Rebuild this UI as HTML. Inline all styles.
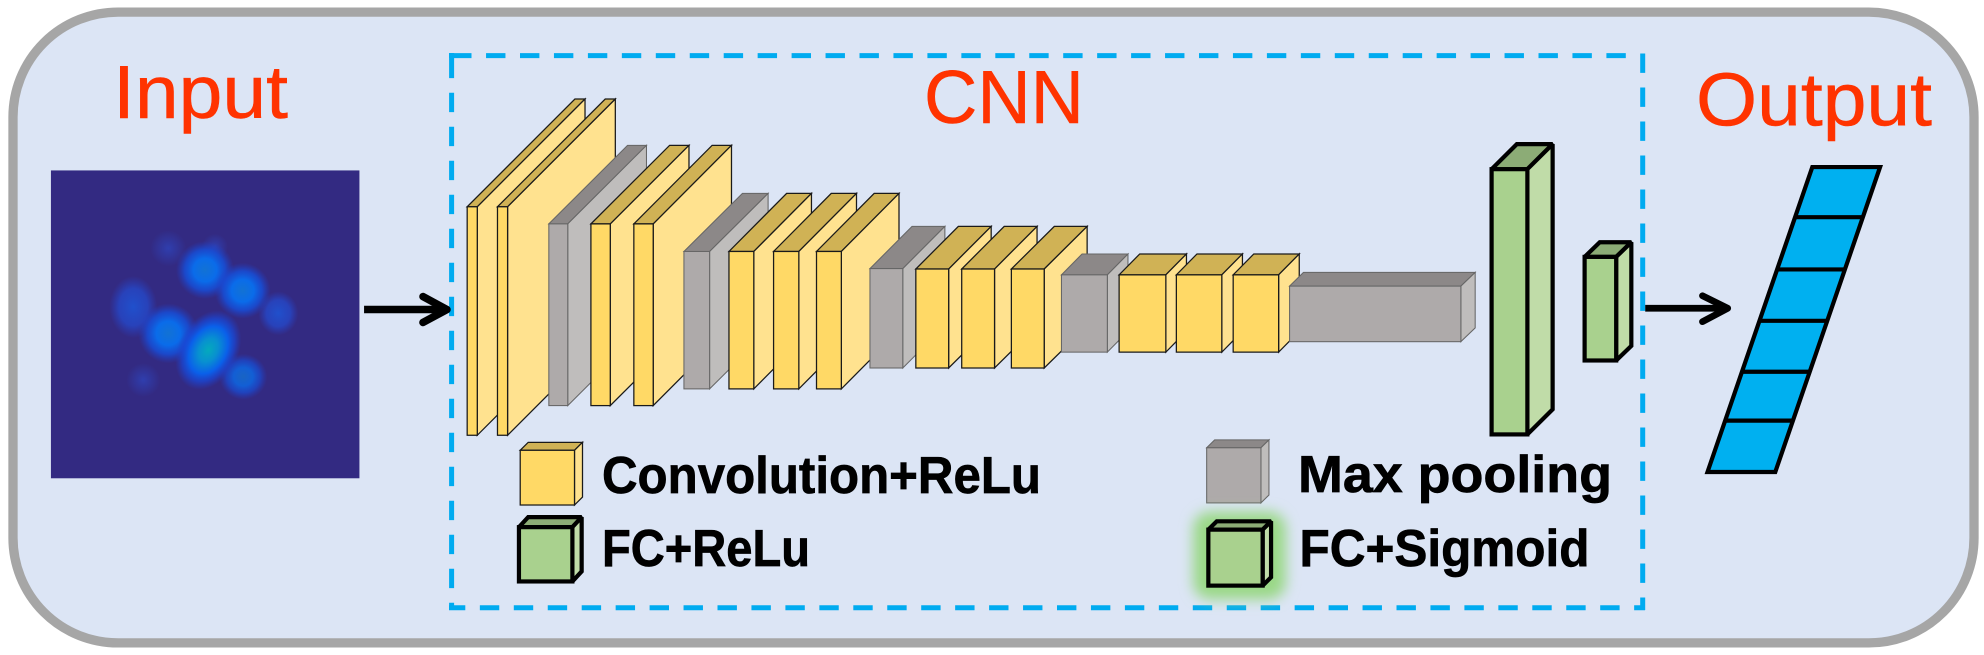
<!DOCTYPE html>
<html><head><meta charset="utf-8"><style>
html,body{margin:0;padding:0;background:#fff}
svg{display:block}
text{font-family:"Liberation Sans",sans-serif}
.t{fill:#FF3300;stroke:#FF3300;stroke-width:.5px;font-size:75px}
.b{fill:#000;stroke:#000;stroke-width:.7px;font-weight:700;font-size:51.6px}
.y polygon,.y rect{stroke:#1a1a1a;stroke-width:3;stroke-linejoin:miter}
.g polygon,.g rect{stroke:#666;stroke-width:2.5}
.k polygon,.k rect{stroke:#000;stroke-width:10;stroke-linejoin:miter;stroke-miterlimit:2}
.yf{fill:#FFD966}.yr{fill:#FFE28F}.yt{fill:#D0B255}
.gf{fill:#AEAAAA}.gr{fill:#BFBDBC}.gt{fill:#8C8888}
.kf{fill:#A9D18E}.kr{fill:#C0DCA8}.kt{fill:#8CAC76}
</style></head><body>
<svg width="1984" height="655" viewBox="0 0 1984 655" xmlns="http://www.w3.org/2000/svg">
<defs>
<filter id="b3" x="-50%" y="-50%" width="200%" height="200%"><feGaussianBlur stdDeviation="16"/></filter>
<radialGradient id="br"><stop offset="0" stop-color="#1272D4"/><stop offset=".4" stop-color="#0A6CEA"/><stop offset=".7" stop-color="#1550DC" stop-opacity=".8"/><stop offset="1" stop-color="#2040C8" stop-opacity="0"/></radialGradient>
<radialGradient id="te"><stop offset="0" stop-color="#04AABC"/><stop offset=".3" stop-color="#0890D0"/><stop offset=".6" stop-color="#0A60EA"/><stop offset=".8" stop-color="#1848D8" stop-opacity=".7"/><stop offset="1" stop-color="#2040C8" stop-opacity="0"/></radialGradient>
<radialGradient id="dm"><stop offset="0" stop-color="#2050CC"/><stop offset=".6" stop-color="#2548C8" stop-opacity=".8"/><stop offset="1" stop-color="#2840C0" stop-opacity="0"/></radialGradient>
<radialGradient id="fa"><stop offset="0" stop-color="#2F3EAE"/><stop offset="1" stop-color="#2F3EAE" stop-opacity="0"/></radialGradient>
</defs>
<rect x="13" y="12.1" width="1961" height="630.8" rx="105" ry="105" fill="#DCE5F5" stroke="#A6A6A6" stroke-width="9.3"/>

<text class="t" x="113" y="118.2" textLength="175" lengthAdjust="spacingAndGlyphs">Input</text>
<text class="t" x="924" y="123.2" textLength="160" lengthAdjust="spacingAndGlyphs">CNN</text>
<text class="t" x="1696" y="125.3" textLength="236" lengthAdjust="spacingAndGlyphs">Output</text>

<g fill="none" stroke="#00ABF0" stroke-width="5">
<path d="M452.1 55.6H1627" stroke-dasharray="19.4 14.55"/>
<path d="M451.6 58.7V610" stroke-dasharray="19.4 14.6"/>
<path d="M449 55.6H454M451.6 53V59.5"/>
<path d="M449 607.8H1645" stroke-dasharray="19.4 14.55" stroke-dashoffset="3.1"/>
<path d="M1642.7 53.5V610" stroke-dasharray="19.4 14.6"/>
</g>

<g transform="scale(0.42088,0.41771)">
<rect x="121" y="408" width="733" height="737" fill="#332A82"/>

<path d="M865 741H1060" fill="none" stroke="#000" stroke-width="18"/>
<path d="M1005 710L1062 741L1005 772" fill="none" stroke="#000" stroke-width="18" stroke-linecap="round" stroke-linejoin="round"/>
<path d="M3909 738H4100" fill="none" stroke="#000" stroke-width="16"/>
<path d="M4045 708L4105 738L4045 770" fill="none" stroke="#000" stroke-width="16" stroke-linecap="round" stroke-linejoin="round"/>

<g class="y"><polygon class="yt" points="1110,495 1134,495 1390,237 1366,237"/><polygon class="yr" points="1134,495 1390,237 1390,784 1134,1042"/><rect class="yf" x="1110" y="495" width="24" height="547"/></g>
<g class="y"><polygon class="yt" points="1182,495 1206,495 1462,237 1438,237"/><polygon class="yr" points="1206,495 1462,237 1462,784 1206,1042"/><rect class="yf" x="1182" y="495" width="24" height="547"/></g>
<g class="g"><polygon class="gt" points="1304,536 1349,536 1536,348 1491,348"/><polygon class="gr" points="1349,536 1536,348 1536,783 1349,971"/><rect class="gf" x="1304" y="536" width="45" height="435"/></g>
<g class="y"><polygon class="yt" points="1404,536 1450,536 1637,348 1591,348"/><polygon class="yr" points="1450,536 1637,348 1637,783 1450,971"/><rect class="yf" x="1404" y="536" width="46" height="435"/></g>
<g class="y"><polygon class="yt" points="1506,536 1552,536 1738,348 1692,348"/><polygon class="yr" points="1552,536 1738,348 1738,783 1552,971"/><rect class="yf" x="1506" y="536" width="46" height="435"/></g>
<g class="g"><polygon class="gt" points="1625,602 1686,602 1825,463 1764,463"/><polygon class="gr" points="1686,602 1825,463 1825,792 1686,931"/><rect class="gf" x="1625" y="602" width="61" height="329"/></g>
<g class="y"><polygon class="yt" points="1732,602 1791,602 1928,463 1869,463"/><polygon class="yr" points="1791,602 1928,463 1928,792 1791,931"/><rect class="yf" x="1732" y="602" width="59" height="329"/></g>
<g class="y"><polygon class="yt" points="1838,602 1898,602 2035,463 1975,463"/><polygon class="yr" points="1898,602 2035,463 2035,792 1898,931"/><rect class="yf" x="1838" y="602" width="60" height="329"/></g>
<g class="y"><polygon class="yt" points="1940,602 1999,602 2136,463 2077,463"/><polygon class="yr" points="1999,602 2136,463 2136,792 1999,931"/><rect class="yf" x="1940" y="602" width="59" height="329"/></g>
<g class="g"><polygon class="gt" points="2067,643 2145,643 2245,542 2167,542"/><polygon class="gr" points="2145,643 2245,542 2245,780 2145,881"/><rect class="gf" x="2067" y="643" width="78" height="238"/></g>
<g class="y"><polygon class="yt" points="2176,644 2254,644 2355,542 2277,542"/><polygon class="yr" points="2254,644 2355,542 2355,780 2254,881"/><rect class="yf" x="2176" y="644" width="78" height="237"/></g>
<g class="y"><polygon class="yt" points="2285,644 2363,644 2464,542 2386,542"/><polygon class="yr" points="2363,644 2464,542 2464,780 2363,881"/><rect class="yf" x="2285" y="644" width="78" height="237"/></g>
<g class="y"><polygon class="yt" points="2403,644 2481,644 2583,542 2505,542"/><polygon class="yr" points="2481,644 2583,542 2583,780 2481,881"/><rect class="yf" x="2403" y="644" width="78" height="237"/></g>
<g class="g"><polygon class="gt" points="2522,658 2631,658 2680,608 2571,608"/><polygon class="gr" points="2631,658 2680,608 2680,793 2631,843"/><rect class="gf" x="2522" y="658" width="109" height="185"/></g>
<g class="y"><polygon class="yt" points="2659,658 2770,658 2819,608 2708,608"/><polygon class="yr" points="2770,658 2819,608 2819,793 2770,843"/><rect class="yf" x="2659" y="658" width="111" height="185"/></g>
<g class="y"><polygon class="yt" points="2795,658 2903,658 2952,608 2844,608"/><polygon class="yr" points="2903,658 2952,608 2952,793 2903,843"/><rect class="yf" x="2795" y="658" width="108" height="185"/></g>
<g class="y"><polygon class="yt" points="2930,658 3038,658 3087,608 2979,608"/><polygon class="yr" points="3038,658 3087,608 3087,793 3038,843"/><rect class="yf" x="2930" y="658" width="108" height="185"/></g>
<g class="g"><polygon class="gt" points="3064,685 3471,685 3505,652 3097,652"/><polygon class="gr" points="3471,685 3505,652 3505,785 3471,818"/><rect class="gf" x="3064" y="685" width="407" height="133"/></g>

<g class="k"><polygon class="kt" points="3544,405 3629,405 3689,345 3604,345"/><polygon class="kr" points="3629,405 3689,345 3689,980 3629,1040"/><rect class="kf" x="3544" y="405" width="85" height="635"/></g>
<g class="k"><polygon class="kt" points="3765,615 3840,615 3876,580 3801,580"/><polygon class="kr" points="3840,615 3876,580 3876,828 3840,863"/><rect class="kf" x="3765" y="615" width="75" height="248"/></g>

<g stroke="#000" stroke-width="10" stroke-linejoin="miter" stroke-miterlimit="3">
<polygon fill="#00B0F0" points="4306,400 4467,400 4218,1130 4057,1130"/>
<path fill="none" d="M4265 520H4426M4222 645H4383M4180 768H4341M4139 890H4300M4099 1007H4260"/>
</g>

<g class="y"><polygon class="yt" points="1236,1078 1365,1078 1384,1059 1255,1059"/><polygon class="yr" points="1365,1078 1384,1059 1384,1190 1365,1209"/><rect class="yf" x="1236" y="1078" width="129" height="131"/></g>
<g class="k"><polygon class="kt" points="1233,1262 1360,1262 1382,1238 1255,1238"/><polygon class="kr" points="1360,1262 1382,1238 1382,1368 1360,1392"/><rect class="kf" x="1233" y="1262" width="127" height="130"/></g>
<g class="g"><polygon class="gt" points="2867,1072 2996,1072 3015,1053 2886,1053"/><polygon class="gr" points="2996,1072 3015,1053 3015,1185 2996,1204"/><rect class="gf" x="2867" y="1072" width="129" height="132"/></g>
<rect x="2835" y="1225" width="220" height="210" rx="40" fill="#9AD886" filter="url(#b3)"/>
<g class="k"><polygon class="kt" points="2871,1268 3000,1268 3020,1248 2891,1248"/><polygon class="kr" points="3000,1268 3020,1248 3020,1382 3000,1402"/><rect class="kf" x="2871" y="1268" width="129" height="134"/></g>
</g>

<circle cx="168.3" cy="248.3" r="18" fill="url(#fa)"/>
<circle cx="215" cy="246.7" r="13" fill="url(#fa)"/>
<circle cx="143.3" cy="380" r="17" fill="url(#fa)"/>
<ellipse cx="278.3" cy="313.3" rx="20" ry="22" fill="url(#dm)"/>
<ellipse cx="133.3" cy="307" rx="24" ry="31" fill="url(#dm)"/>
<circle cx="205" cy="270" r="29" fill="url(#br)"/>
<circle cx="242.7" cy="290.7" r="28" fill="url(#br)"/>
<ellipse cx="243.3" cy="376.7" rx="24" ry="23" fill="url(#br)" opacity=".8"/>
<circle cx="168.3" cy="333.3" r="30" fill="url(#br)"/>
<ellipse cx="208.3" cy="350" rx="30" ry="42" fill="url(#te)" transform="rotate(28 208.3 350)"/>

<text class="b" x="602" y="492.9" textLength="439" lengthAdjust="spacingAndGlyphs">Convolution+ReLu</text>
<text class="b" x="602" y="566" textLength="208" lengthAdjust="spacingAndGlyphs">FC+ReLu</text>
<text class="b" x="1298" y="492" textLength="314" lengthAdjust="spacingAndGlyphs">Max pooling</text>
<text class="b" x="1299.5" y="566" textLength="290" lengthAdjust="spacingAndGlyphs">FC+Sigmoid</text>
</svg>
</body></html>
